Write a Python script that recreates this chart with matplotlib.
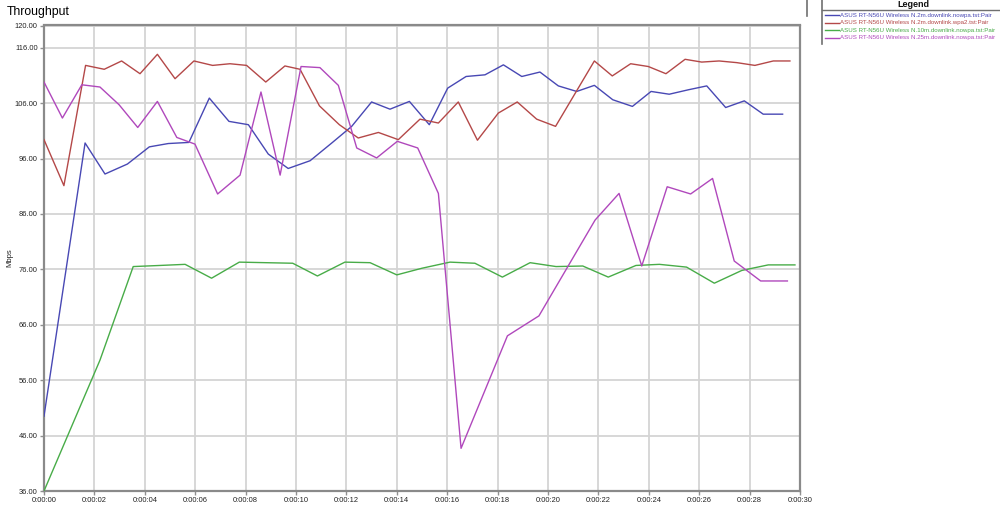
import matplotlib
matplotlib.use("Agg")
import matplotlib.pyplot as plt
from matplotlib.ticker import FuncFormatter, FixedLocator
from matplotlib.lines import Line2D

plt.rcParams["font.family"] = ["Liberation Sans", "DejaVu Sans"]

# ---- data (time in seconds, Mbps) ----
blue_t = [0, 1.63, 2.42, 3.31, 4.18, 4.93, 5.75, 6.56, 7.34, 8.11, 8.9, 9.69, 10.56, 11.42,
          12.21, 13.0, 13.73, 14.5, 15.29, 16.02, 16.75, 17.5, 18.23, 18.96, 19.68, 20.41,
          21.14, 21.84, 22.57, 23.35, 24.09, 24.81, 25.57, 26.3, 27.05, 27.79, 28.54, 29.31]
blue_v = [49.5, 98.8, 93.2, 95.0, 98.1, 98.7, 98.9, 106.9, 102.7, 102.1, 96.8, 94.2, 95.6, 98.8,
          101.8, 106.2, 104.9, 106.3, 102.1, 108.7, 110.8, 111.1, 112.9, 110.8, 111.6, 109.1,
          108.1, 109.2, 106.6, 105.4, 108.1, 107.6, 108.4, 109.1, 105.2, 106.4, 104.0, 104.0]

red_t = [0, 0.79, 1.65, 2.39, 3.08, 3.81, 4.5, 5.2, 5.95, 6.69, 7.38, 8.04, 8.8, 9.56, 10.16,
         10.93, 11.72, 12.47, 13.27, 14.06, 14.92, 15.65, 16.44, 17.2, 18.03, 18.78, 19.55,
         20.3, 21.84, 22.55, 23.28, 23.98, 24.68, 25.44, 26.1, 26.79, 27.49, 28.21, 28.94, 29.6]
red_v = [99.4, 91.1, 112.8, 112.1, 113.6, 111.3, 114.8, 110.4, 113.6, 112.8, 113.1, 112.8, 109.8,
         112.7, 112.1, 105.5, 102.1, 99.7, 100.7, 99.4, 103.1, 102.4, 106.2, 99.3, 104.2, 106.2,
         103.1, 101.8, 113.6, 110.9, 113.1, 112.6, 111.3, 113.9, 113.4, 113.6, 113.3, 112.8,
         113.6, 113.6]

green_t = [0, 2.22, 3.54, 4.6, 5.6, 6.65, 7.75, 8.8, 9.87, 10.85, 11.94, 12.94, 14.0, 15.0,
           16.11, 17.1, 18.19, 19.29, 20.32, 21.38, 22.39, 23.49, 24.42, 25.5, 26.6, 27.69,
           28.74, 29.8]
green_v = [36.0, 59.6, 76.5, 76.7, 76.9, 74.4, 77.3, 77.2, 77.1, 74.8, 77.3, 77.2, 75.0, 76.2,
           77.3, 77.1, 74.6, 77.2, 76.5, 76.6, 74.6, 76.7, 76.9, 76.4, 73.5, 75.8, 76.8, 76.8]

magenta_t = [0, 0.73, 1.5, 2.22, 2.98, 3.72, 4.5, 5.27, 5.99, 6.89, 7.78, 8.61, 9.37, 10.2,
             10.95, 11.68, 12.41, 13.2, 14.02, 14.83, 15.65, 16.55, 18.39, 19.64, 21.87, 22.82,
             23.72, 24.73, 25.66, 26.53, 27.39, 28.44, 29.5]
magenta_v = [109.8, 103.3, 109.3, 108.9, 105.7, 101.6, 106.3, 99.8, 98.6, 89.6, 93.0, 108.0,
             93.0, 112.6, 112.4, 109.2, 97.9, 96.1, 99.1, 97.9, 89.7, 43.7, 64.0, 67.6, 84.9,
             89.7, 76.6, 90.9, 89.6, 92.4, 77.5, 73.9, 73.9]

series_names = [
    "ASUS RT-N56U Wireless N.2m.downlink.nowpa.tst:Pair",
    "ASUS RT-N56U Wireless N.2m.downlink.wpa2.tst:Pair",
    "ASUS RT-N56U Wireless N.10m.downlink.nowpa.tst:Pair",
    "ASUS RT-N56U Wireless N.25m.downlink.nowpa.tst:Pair",
]
colors = ["#4848b4", "#b44848", "#48ac48", "#b048bc"]

y_ticks = [36, 46, 56, 66, 76, 86, 96, 106, 116, 120]
x_ticks = list(range(0, 31, 2))

# ---- figure ----
W, H = 1000, 505
fig = plt.figure(figsize=(10, 5.05), dpi=100)
fig.patch.set_facecolor("white")
ax = fig.add_axes([44 / W, 1 - 491 / H, 756 / W, 465.5 / H])

for t, v, c in zip([blue_t, red_t, green_t, magenta_t],
                   [blue_v, red_v, green_v, magenta_v], colors):
    ax.plot(t, v, color=c, lw=1.0, zorder=3)

ax.set_xlim(0, 30)
ax.set_ylim(36, 120)
ax.xaxis.set_major_locator(FixedLocator(x_ticks))
ax.yaxis.set_major_locator(FixedLocator(y_ticks))
ax.xaxis.set_major_formatter(FuncFormatter(lambda x, p: "0:00:%02d" % int(round(x))))
ax.yaxis.set_major_formatter(FuncFormatter(lambda y, p: "%.2f" % y))
ax.grid(True, color="#d4d4d4", lw=1.3, zorder=0)
ax.set_axisbelow(True)
ax.tick_params(axis="both", labelsize=5.4, colors="#909090", labelcolor="#222222",
               length=3, width=1, pad=1.5)
for s in ax.spines.values():
    s.set_color("#8a8a8a")
    s.set_linewidth(1.6)

fig.text(7 / W, 1 - 12 / H, "Throughput", fontsize=8.8, va="center", ha="left", color="black")
fig.text(10 / W, 1 - 258 / H, "Mbps", fontsize=5.6, rotation=90, va="center", ha="center",
         color="#222222")

# ---- legend panel on the right ----
def fy(y):
    return 1 - y / H

fig.add_artist(Line2D([807 / W, 807 / W], [fy(0), fy(16)], color="#707070", lw=1.2))
fig.add_artist(Line2D([822 / W, 822 / W], [fy(0), fy(44)], color="#707070", lw=1.2))
fig.add_artist(Line2D([822 / W, 1.0], [fy(9.5), fy(9.5)], color="#707070", lw=1.0))
fig.text(913 / W, fy(4.5), "Legend", fontsize=6.5, weight="bold", ha="center", va="center",
         color="#111111")
for i, (name, c) in enumerate(zip(series_names, colors)):
    yy = fy(15 + 7.6 * i)
    fig.add_artist(Line2D([825 / W, 839 / W], [yy, yy], color=c, lw=1.0))
    fig.text(840 / W, yy, name, fontsize=4.45, color=c, ha="left", va="center")

fig.savefig("out.png", dpi=100)
